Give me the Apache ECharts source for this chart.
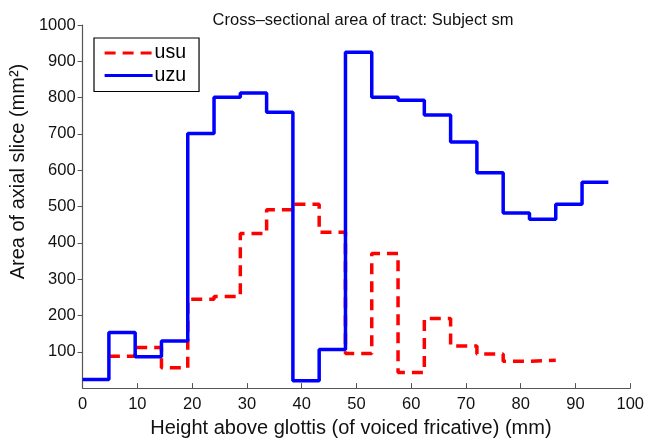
<!DOCTYPE html>
<html>
<head>
<meta charset="utf-8">
<title>Cross-sectional area</title>
<script src="https://cdn.jsdelivr.net/npm/echarts@6/dist/echarts.min.js"></script>
<style>
  html, body { margin: 0; padding: 0; background: #fff; }
  #main { width: 647px; height: 443px; }
</style>
</head>
<body>
<div id="main"></div>
<script>
// step edges (mm) and slice areas (mm^2) per token
var usuEdges = [4.8, 9.6, 14.4, 19.2, 24, 28.8, 33.6, 38.4, 43.2, 48, 52.8, 57.6, 62.4, 67.2, 72, 76.8, 81.6, 86.4];
var usuValues = [88, 112, 56, 245, 252, 426, 491, 506, 429, 95, 371, 43, 192, 116, 94, 74, 77];
var uzuEdges = [0, 4.8, 9.6, 14.4, 19.2, 24, 28.8, 33.6, 38.4, 43.2, 48, 52.8, 57.6, 62.4, 67.2, 72, 76.8, 81.6, 86.4, 91.2, 96];
var uzuValues = [24, 153, 86, 130, 701, 801, 813, 760, 20, 106, 925, 801, 793, 752, 678, 593, 482, 465, 506, 567];
var xTicks = [0, 10, 20, 30, 40, 50, 60, 70, 80, 90, 100];
var yTicks = [100, 200, 300, 400, 500, 600, 700, 800, 900, 1000];

// stairs: each value holds from its edge to the next one
function stairs(edges, values) {
    var pts = [];
    for (var i = 0; i < values.length; i++) {
        pts.push([edges[i], values[i]]);
    }
    pts.push([edges[values.length], values[values.length - 1]]);
    return pts;
}

var font = 'Liberation Sans, Arial, Helvetica, sans-serif';
var chart = echarts.init(document.getElementById('main'));

var option = {
    backgroundColor: '#fff',
    animation: false,
    title: {
        text: 'Cross\u2013sectional area of tract: Subject sm',
        left: 358,
        top: 7,
        textAlign: 'center',
        textStyle: { fontFamily: font, fontSize: 16.5, fontWeight: 'normal', color: '#111' }
    },
    legend: {
        left: 94,
        top: 38,
        orient: 'vertical',
        itemWidth: 48,
        itemHeight: 4,
        itemGap: 2.5,
        padding: [5, 13, 6, 9],
        backgroundColor: '#fff',
        borderColor: '#000',
        borderWidth: 1.2,
        borderRadius: 0,
        itemStyle: { opacity: 0 },
        lineStyle: { width: 3.2 },
        textStyle: { fontFamily: font, fontSize: 19.5, color: '#000', padding: [0, 0, 0, -3] },
        data: ['usu', 'uzu']
    },
    grid: { left: 82, right: 16, top: 25, bottom: 51 },
    xAxis: {
        type: 'value',
        min: 0,
        max: 100,
        interval: 10,
        name: 'Height above glottis (of voiced fricative) (mm)',
        nameLocation: 'middle',
        nameGap: 25,
        nameTextStyle: { fontFamily: font, fontSize: 20, color: '#111', padding: [0, 11, 0, 0] },
        axisLine: { lineStyle: { color: '#555', width: 1.2 } },
        axisTick: { inside: true, length: 5, lineStyle: { color: '#555' } },
        axisLabel: {
            fontFamily: font, fontSize: 16.5, color: '#111', margin: 8,
            customValues: xTicks
        },
        splitLine: { show: false }
    },
    yAxis: {
        type: 'value',
        min: 0,
        max: 1000,
        interval: 100,
        name: 'Area of axial slice (mm\u00b2)',
        nameLocation: 'middle',
        nameGap: 41,
        nameTextStyle: { fontFamily: font, fontSize: 20, color: '#111', padding: [0, 0, 0, 70] },
        axisLine: { show: true, lineStyle: { color: '#555', width: 1.2 } },
        axisTick: { show: true, length: 5, lineStyle: { color: '#555' }, customValues: yTicks },
        axisLabel: {
            fontFamily: font, fontSize: 16.5, color: '#111', margin: 7,
            customValues: yTicks,
            formatter: function (v) { return String(v); }
        },
        splitLine: { show: false }
    },
    series: [
        {
            name: 'usu',
            type: 'line',
            step: 'end',
            symbol: 'none',
            color: '#ff0000',
            lineStyle: { color: '#ff0000', width: 3.5, type: [11, 7] },
            data: stairs(usuEdges, usuValues),
            z: 2
        },
        {
            name: 'uzu',
            type: 'line',
            step: 'end',
            symbol: 'none',
            color: '#0000ff',
            lineStyle: { color: '#0000ff', width: 3.5 },
            data: stairs(uzuEdges, uzuValues),
            z: 3
        }
    ]
};

chart.setOption(option);
</script>
</body>
</html>
